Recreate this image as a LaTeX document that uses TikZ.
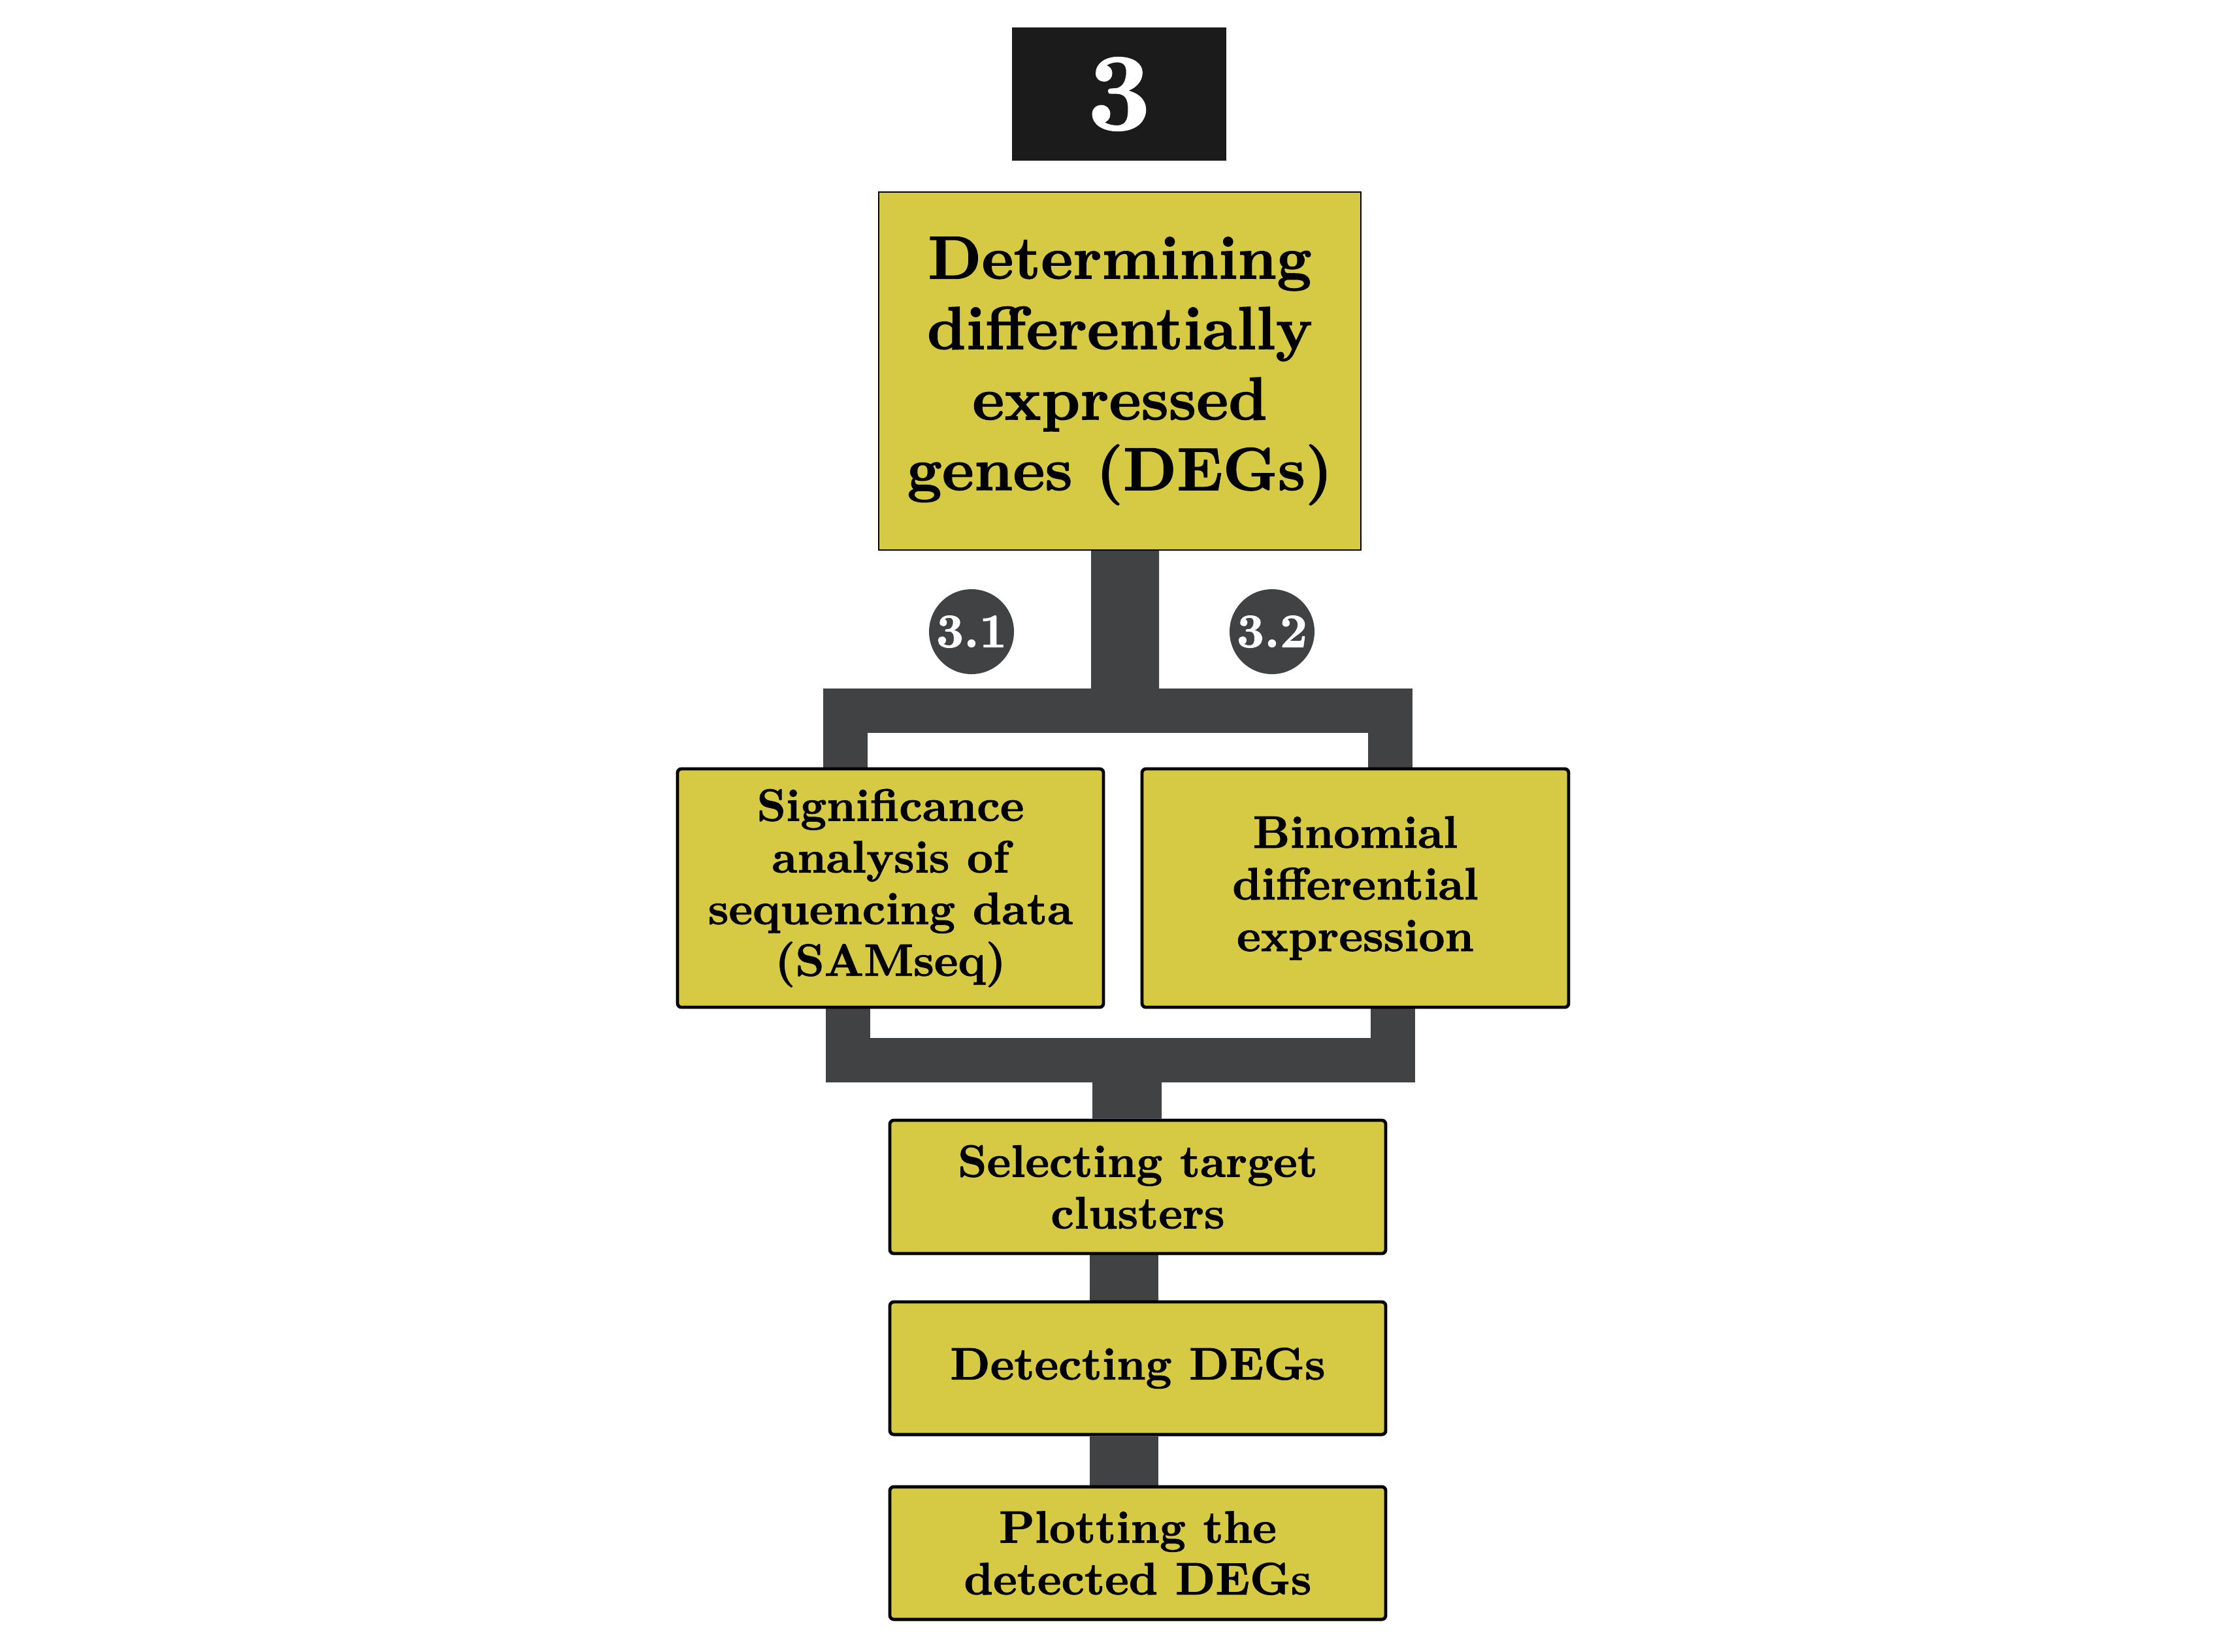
\documentclass[tikz,border=0pt]{standalone}
\usepackage{fontspec}
\usepackage{tikz}
\usetikzlibrary{backgrounds}

\newfontfamily\heavyfont{lmroman10-bold}[Extension=.otf, FakeBold=1.2]

\definecolor{stepyellow}{RGB}{214,201,67}
\definecolor{pipegray}{RGB}{65,66,68}
\definecolor{tagblack}{RGB}{27,27,27}

\begin{document}
\begin{tikzpicture}[every node/.style={align=center, inner sep=0pt, font=\heavyfont},
    stage/.style={rectangle, draw, fill=stepyellow, line width=1.4pt, rounded corners=0.6mm},
    stagetext/.style={font=\heavyfont\fontsize{19.8}{22.5}\selectfont},
    branch/.style={circle, fill=pipegray, text=white, minimum size=13mm, font=\heavyfont\fontsize{21}{21}\selectfont},
    pipe/.style={draw=pipegray, line width=6.8mm, line join=miter}]
  \useasboundingbox (0cm, 0cm) rectangle (33.98cm, -25.28cm);
  \node [fill=tagblack, text=white, minimum width=32.8mm, minimum height=20.4mm, font=\heavyfont\fontsize{48}{48}\selectfont] (tag) at (17.13cm, -1.44cm) {3};
  \node [stage, rounded corners=0pt, line width=0.6pt, minimum width=73.8mm, minimum height=54.8mm, font=\heavyfont\fontsize{26.5}{30.7}\selectfont] (main) at (17.14cm, -5.68cm) {Determining\\differentially\\expressed\\genes (DEGs)};
  \node [branch] (b31) at (14.87cm, -9.67cm) {3.1};
  \node [branch] (b32) at (19.47cm, -9.67cm) {3.2};
  \node [stage, stagetext, minimum width=65.2mm, minimum height=36.5mm] (sam) at (13.63cm, -13.595cm) {Significance\\analysis of\\sequencing data\\(SAMseq)};
  \node [stage, stagetext, minimum width=65.3mm, minimum height=36.5mm] (bde) at (20.745cm, -13.595cm) {Binomial\\differential\\expression};
  \node [stage, stagetext, minimum width=75.9mm, minimum height=20.4mm] (sel) at (17.415cm, -18.17cm) {Selecting target\\clusters};
  \node [stage, stagetext, minimum width=75.9mm, minimum height=20.3mm] (det) at (17.415cm, -20.945cm) {Detecting DEGs};
  \node [stage, stagetext, minimum width=75.9mm, minimum height=20.3mm] (plot) at (17.415cm, -23.775cm) {Plotting the\\detected DEGs};
  \coordinate (split) at (17.22cm, -10.875cm);
  \coordinate (merge) at (17.25cm, -16.225cm);
  \begin{scope}[on background layer]
    \draw [pipe, line width=10.4mm] ([xshift=0.8mm]main.south) -- (split);
    \draw [pipe] ([xshift=-6.9mm]sam.north) |- (split) -| ([xshift=5.35mm]bde.north);
    \draw [pipe] ([xshift=-6.5mm]sam.south) |- (merge) -| ([xshift=5.75mm]bde.south);
    \draw [pipe, line width=10.6mm] (merge) -- ([xshift=-1.65mm]sel.north);
    \draw [pipe, line width=10.5mm] ([xshift=-2.1mm]sel.south) -- ([xshift=-2.1mm]det.north);
    \draw [pipe, line width=10.5mm] ([xshift=-2.1mm]det.south) -- ([xshift=-2.1mm]plot.north);
  \end{scope}
\end{tikzpicture}
\end{document}
